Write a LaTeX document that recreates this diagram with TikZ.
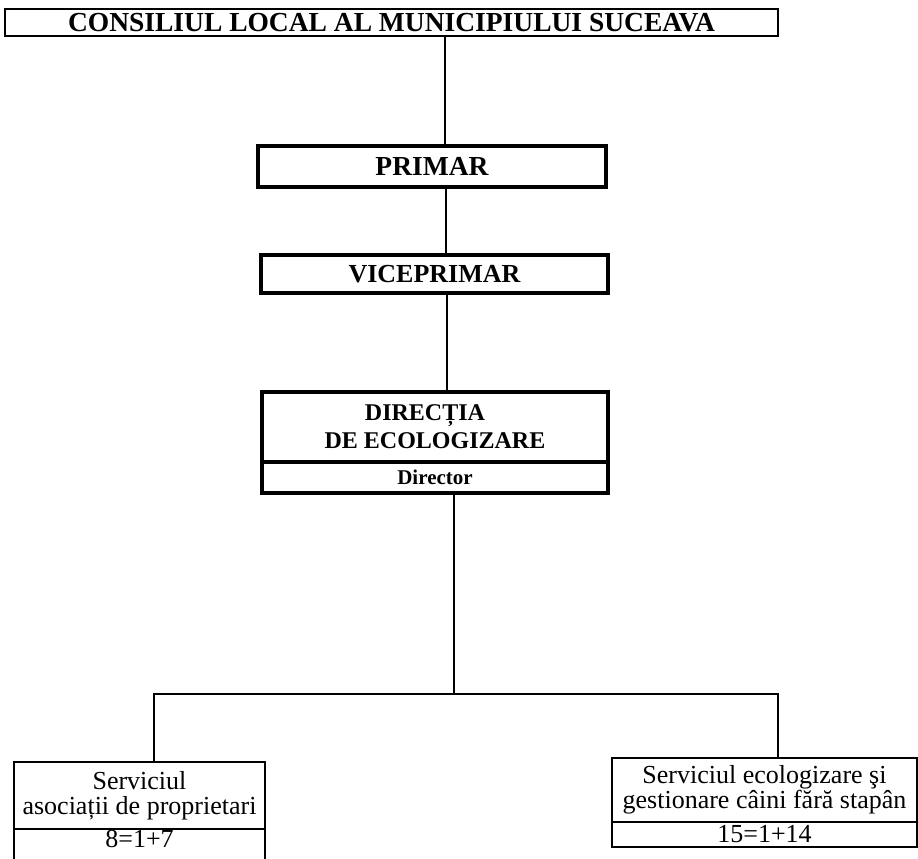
\documentclass[tikz,border=0pt]{standalone}
\usepackage{fontspec}
\setmainfont{Liberation Serif}
\usetikzlibrary{positioning}

\begin{document}
\begin{tikzpicture}[x=1pt, y=-1pt]
    \tikzstyle{level} = [rectangle, draw, outer sep=0pt, inner sep=0pt, align=center]
    \tikzstyle{head} = [level, line width=4pt, font=\fontsize{27.5}{27.5}\selectfont\bfseries]
    \tikzstyle{service} = [level, line width=1.5pt, font=\fontsize{26}{25}\selectfont]
    \tikzstyle{link} = [line width=1.5pt]

    \clip (0,0) rectangle (918,859);

    \node[level, line width=2pt, minimum width=773pt, minimum height=27pt,
          font=\fontsize{27.5}{27.5}\selectfont\bfseries] (consiliu) at (391.5,22.5)
        {CONSILIUL LOCAL AL MUNICIPIULUI SUCEAVA};

    \node[head, minimum width=348pt, minimum height=41pt] (primar) at (432,166.5) {PRIMAR};

    \node[head, minimum width=347pt, minimum height=38pt,
          font=\fontsize{26}{26}\selectfont\bfseries] (viceprimar) at (434.5,274) {VICEPRIMAR};

    \node[head, line width=3.5pt, minimum width=346pt, minimum height=70pt,
          font=\fontsize{24}{28}\selectfont\bfseries] (directia) at (435,427)
        {DIRECȚIA\hspace*{20pt}\\DE ECOLOGIZARE};
    \node[head, line width=3.5pt, minimum width=346pt, minimum height=31pt,
          font=\fontsize{21}{21}\selectfont\bfseries, below=0pt of directia] (director) {Director};

    % servicii
    \node[service, minimum width=251pt, minimum height=67pt] (asociatii) at (139.5,795.5)
        {Serviciul\\asociații de proprietari};
    \node[service, minimum width=251pt, minimum height=32pt, text height=18pt, text depth=14pt,
          below=0pt of asociatii] (asocnr) {8=1+7};

    \node[service, minimum width=305pt, minimum height=64pt] (ecologizare) at (764.5,790)
        {Serviciul ecologizare şi\\gestionare câini fără stapân};
    \node[service, minimum width=305pt, minimum height=25pt, below=0pt of ecologizare] (ecolnr) {15=1+14};

    % legaturi
    \coordinate (bus) at (454,694);
    \coordinate (busL) at (154,694);
    \coordinate (busR) at (778,694);

    \draw[link] (consiliu.south -| 445,0) -- (primar.north -| 445,0);
    \draw[link] (primar.south -| 446,0) -- (viceprimar.north -| 446,0);
    \draw[link] (viceprimar.south -| 447,0) -- (directia.north -| 447,0);
    \draw[link] (director.south -| bus) -- (bus);
    \draw[link] (asociatii.north -| busL) -- (busL) -- (busR) -- (ecologizare.north -| busR);
\end{tikzpicture}
\end{document}
